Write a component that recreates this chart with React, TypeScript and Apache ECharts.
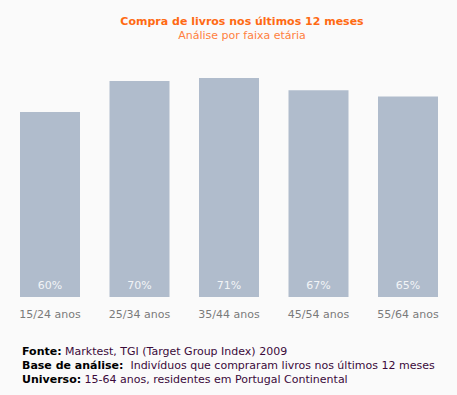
import React, { useEffect, useRef } from "react";
import * as echarts from "echarts";

const categories = ["15/24 anos", "25/34 anos", "35/44 anos", "45/54 anos", "55/64 anos"];
const values = [60, 70, 71, 67, 65];
const titleText = "Compra de livros nos últimos 12 meses";
const subtitleText = "Análise por faixa etária";
const footerLines = [
  ["Fonte:", " Marktest, TGI (Target Group Index) 2009"],
  ["Base de análise:", "  Indivíduos que compraram livros nos últimos 12 meses"],
  ["Universo:", " 15-64 anos, residentes em Portugal Continental"],
];

const FONT = "DejaVu Sans, Verdana, sans-serif";

export default function App() {
  const ref = useRef<HTMLDivElement>(null);
  useEffect(() => {
    const chart = echarts.init(ref.current!, undefined, { renderer: "svg" });
    chart.setOption({
      animation: false,
      backgroundColor: "#fafafa",
      grid: { left: 5.25, right: 4.25, top: 50.2, bottom: 98, containLabel: false },
      xAxis: {
        type: "category",
        data: categories,
        axisLine: { show: false },
        axisTick: { show: false },
        axisLabel: { fontFamily: FONT, fontSize: 11, color: "#7a7a7a", margin: 12 },
      },
      yAxis: {
        type: "value",
        min: 0,
        max: 80,
        show: false,
        splitLine: { show: false },
      },
      series: [
        {
          type: "bar",
          data: values,
          barWidth: 60,
          itemStyle: { color: "#b0bccc" },
          label: {
            show: true,
            position: "insideBottom",
            distance: 6,
            formatter: "{c}%",
            fontFamily: FONT,
            fontSize: 11,
            color: "#f2f4f7",
          },
        },
      ],
      graphic: [
        {
          type: "text",
          x: 242,
          y: 16,
          style: {
            text: titleText,
            textAlign: "center",
            fontFamily: FONT,
            fontSize: 11,
            fontWeight: "bold",
            fill: "#ff6a13",
          },
        },
        {
          type: "text",
          x: 242,
          y: 30,
          style: {
            text: subtitleText,
            textAlign: "center",
            fontFamily: FONT,
            fontSize: 11,
            fill: "#ff8040",
          },
        },
        ...footerLines.map((l, i) => ({
          type: "text",
          left: 22,
          top: 346 + i * 14,
          style: {
            text: `{b|${l[0]}}{n|${l[1]}}`,
            rich: {
              b: { fontFamily: FONT, fontSize: 11, fontWeight: "bold", fill: "#000000" },
              n: { fontFamily: FONT, fontSize: 11, fill: "#3a0a3a" },
            },
          },
        })),
      ],
    });
    return () => chart.dispose();
  }, []);
  return <div ref={ref} style={{ width: 457, height: 395, position: "absolute", left: 0, top: 0 }} />;
}
